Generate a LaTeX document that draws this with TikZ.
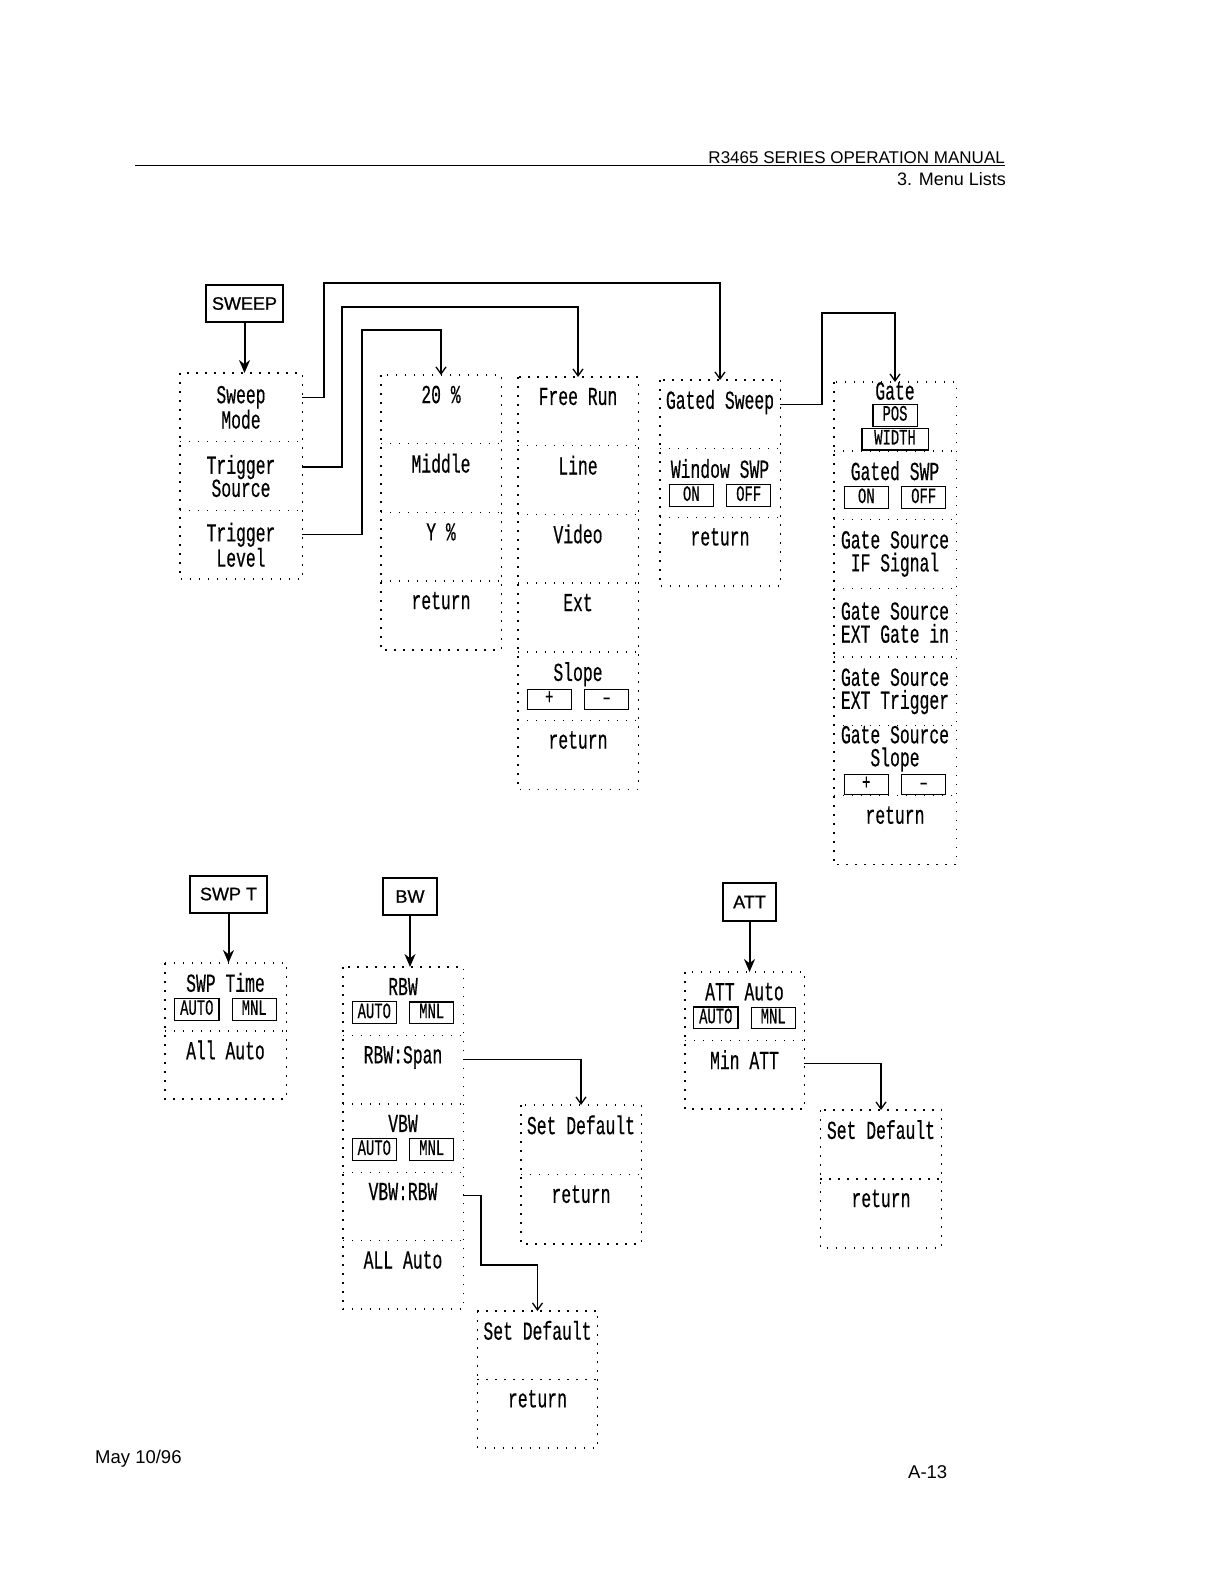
\documentclass[tikz,border=0pt]{standalone}
\usepackage{fontspec}
\setmainfont{Liberation Sans}
\newfontfamily\menufont{Liberation Mono}[FakeStretch=0.63,FakeBold=0.4]
\newfontfamily\headfont{Liberation Sans}[FakeBold=0.8]
\usetikzlibrary{positioning, arrows.meta}

\setlength{\fboxrule}{1.2pt}
\setlength{\fboxsep}{1pt}
\newcommand{\softkey}[2][41pt]{\fbox{\fontsize{22}{22}\selectfont\makebox[#1]{\rule[-4pt]{0pt}{17pt}#2}}}

\tikzset{
  keyhead/.style={draw, line width=2pt, minimum width=77pt, minimum height=37pt, inner sep=0pt, font=\headfont\fontsize{18}{20}\selectfont},
  menurow/.style={minimum width=120pt, minimum height=68.3pt, inner sep=0pt, align=center, anchor=north, font=\menufont\fontsize{26}{23}\selectfont},
  menuline/.style={line width=1.4pt, dash pattern=on 1.6pt off 7.4pt},
  keydown/.style={line width=2pt, -{Stealth[length=13pt, width=11pt]}},
  submenu/.style={line width=1.3pt, -{Straight Barb[length=7pt, width=10pt]}},
}

\begin{document}
\begin{tikzpicture}[x=1pt, y=-1pt]
  \fill[white] (0,0) rectangle (1224,1584);
  \useasboundingbox (0,0) rectangle (1224,1584);

  % ---------- header / footer ----------
  \draw[line width=1pt] (135,165) -- (1005,165);
  \node[anchor=base east, inner sep=0pt, font=\fontsize{17}{18}\selectfont] (manual) at (1005,163) {R3465 SERIES OPERATION MANUAL};
  \node[anchor=base east, inner sep=0pt, font=\fontsize{18}{18}\selectfont] (chapter) at (1006,185) {3. Menu Lists};
  \node[anchor=base west, inner sep=0pt, font=\fontsize{18.5}{18}\selectfont] (date) at (95,1463) {May 10/96};
  \node[anchor=base west, inner sep=0pt, font=\fontsize{18.5}{18}\selectfont] (page) at (908,1478) {A-13};

  % ---------- SWEEP ----------
  \node[keyhead] (sweepkey) at (244.5,303.5) {SWEEP};
  \node[menurow, minimum width=122pt] (mode) at (241,373) {Sweep\\Mode};
  \node[menurow, minimum width=122pt, below=0pt of mode] (trigsrc) {Trigger\\Source};
  \node[menurow, minimum width=122pt, below=0pt of trigsrc] (triglvl) {Trigger\\Level};
  \draw[menuline] (mode.north west) rectangle (triglvl.south east);
  \foreach \r in {mode,trigsrc} \draw[menuline] (\r.south west) -- (\r.south east);
  \draw[keydown] (sweepkey.south) -- (sweepkey.south |- mode.north);

  % Trigger Level
  \node[menurow] (pct) at (441,375) {20 \%\\\strut};
  \node[menurow, below=0pt of pct] (middle) {Middle\\\strut};
  \node[menurow, below=0pt of middle] (ypct) {Y \%\\\strut};
  \node[menurow, below=0pt of ypct] (pctret) {return\\\strut};
  \draw[menuline] (pct.north west) rectangle (pctret.south east);
  \foreach \r in {pct,middle,ypct} \draw[menuline] (\r.south west) -- (\r.south east);

  % Trigger Source
  \node[menurow] (freerun) at (578,377) {Free Run\\\strut};
  \node[menurow, below=0pt of freerun] (line) {Line\\\strut};
  \node[menurow, below=0pt of line] (video) {Video\\\strut};
  \node[menurow, below=0pt of video] (ext) {Ext\\\strut};
  \node[menurow, below=0pt of ext] (slope) {Slope\\\softkey{+}\hspace{12pt}\softkey{\textendash}};
  \node[menurow, below=0pt of slope] (trigret) {return\\\strut};
  \draw[menuline] (freerun.north west) rectangle (trigret.south east);
  \foreach \r in {freerun,line,video,ext,slope} \draw[menuline] (\r.south west) -- (\r.south east);

  % Sweep Mode
  \node[menurow] (gated) at (720,380) {Gated Sweep\\\strut};
  \node[menurow, below=0pt of gated] (window) {Window SWP\\\softkey{ON}\hspace{12pt}\softkey{OFF}};
  \node[menurow, below=0pt of window] (moderet) {return\\\strut};
  \draw[menuline] (gated.north west) rectangle (moderet.south east);
  \foreach \r in {gated,window} \draw[menuline] (\r.south west) -- (\r.south east);

  % Gated Sweep
  \node[menurow, minimum width=122pt, font=\menufont\fontsize{26}{21}\selectfont] (gate) at (895,382) {Gate\\\softkey{POS}\\\softkey[63pt]{WIDTH}};
  \node[menurow, minimum width=122pt, below=0pt of gate] (gatedswp) {Gated SWP\\\softkey{ON}\hspace{12pt}\softkey{OFF}};
  \node[menurow, minimum width=122pt, below=0pt of gatedswp] (gsif) {Gate Source\\IF Signal};
  \node[menurow, minimum width=122pt, below=0pt of gsif] (gsext) {Gate Source\\EXT Gate in};
  \node[menurow, minimum width=122pt, below=0pt of gsext] (gstrig) {Gate Source\\EXT Trigger};
  \node[menurow, minimum width=122pt, below=0pt of gstrig] (gsslope) {Gate Source\\Slope\\\softkey{+}\hspace{12pt}\softkey{\textendash}};
  \node[menurow, minimum width=122pt, below=0pt of gsslope] (gateret) {return\\\strut};
  \draw[menuline] (gate.north west) rectangle (gateret.south east);
  \foreach \r in {gate,gatedswp,gsif,gsext,gstrig,gsslope} \draw[menuline] (\r.south west) -- (\r.south east);

  % SWEEP connections
  \draw[submenu] ([yshift=10pt]mode.east) -| (324,283) -| (gated.north);
  \draw[submenu] ([yshift=9pt]trigsrc.east) -| (342,307) -| (freerun.north);
  \draw[submenu] ([yshift=10pt]triglvl.east) -| (362,330) -| (pct.north);
  \draw[submenu] ([yshift=10pt]gated.east) -| (822,313) -| (gate.north);

  % ---------- SWP T ----------
  \node[keyhead] (swptkey) at (228.5,894) {SWP T};
  \node[menurow, minimum width=121pt, minimum height=67.5pt] (swptime) at (225.5,963) {SWP Time\\\softkey{AUTO}\hspace{12pt}\softkey{MNL}};
  \node[menurow, minimum width=121pt, minimum height=67.5pt, below=0pt of swptime] (allauto) {All Auto\\\strut};
  \draw[menuline] (swptime.north west) rectangle (allauto.south east);
  \draw[menuline] (swptime.south west) -- (swptime.south east);
  \draw[keydown] (swptkey.south) -- (swptkey.south |- swptime.north);

  % ---------- BW ----------
  \node[keyhead, minimum width=54pt] (bwkey) at (410,896.5) {BW};
  \node[menurow, minimum height=68pt] (rbw) at (403,967) {RBW\\\softkey{AUTO}\hspace{12pt}\softkey{MNL}};
  \node[menurow, minimum height=68pt, below=0pt of rbw] (rbwspan) {RBW:Span\\\strut};
  \node[menurow, minimum height=68pt, below=0pt of rbwspan] (vbw) {VBW\\\softkey{AUTO}\hspace{12pt}\softkey{MNL}};
  \node[menurow, minimum height=68pt, below=0pt of vbw] (vbwrbw) {VBW:RBW\\\strut};
  \node[menurow, minimum height=68pt, below=0pt of vbwrbw] (allautobw) {ALL Auto\\\strut};
  \draw[menuline] (rbw.north west) rectangle (allautobw.south east);
  \foreach \r in {rbw,rbwspan,vbw,vbwrbw} \draw[menuline] (\r.south west) -- (\r.south east);
  \draw[keydown] (bwkey.south) -- (bwkey.south |- rbw.north);

  % RBW:Span
  \node[menurow, minimum height=69pt] (spandef) at (581,1105) {Set Default\\\strut};
  \node[menurow, minimum height=69pt, below=0pt of spandef] (spanret) {return\\\strut};
  \draw[menuline] (spandef.north west) rectangle (spanret.south east);
  \draw[menuline] (spandef.south west) -- (spandef.south east);
  \draw[submenu] ([yshift=10pt]rbwspan.east) -| (spandef.north);

  % VBW:RBW
  \node[menurow, minimum height=68pt] (ratiodef) at (537.5,1311) {Set Default\\\strut};
  \node[menurow, minimum height=68pt, below=0pt of ratiodef] (ratioret) {return\\\strut};
  \draw[menuline] (ratiodef.north west) rectangle (ratioret.south east);
  \draw[menuline] (ratiodef.south west) -- (ratiodef.south east);
  \draw[submenu] ([yshift=11pt]vbwrbw.east) -| (481,1265) -| (ratiodef.north);

  % ---------- ATT ----------
  \node[keyhead, minimum width=53pt, minimum height=38pt] (attkey) at (749.5,902) {ATT};
  \node[menurow, minimum width=119pt, minimum height=68pt] (attauto) at (744.5,972) {ATT Auto\\\softkey{AUTO}\hspace{12pt}\softkey{MNL}};
  \node[menurow, minimum width=119pt, minimum height=68pt, below=0pt of attauto] (minatt) {Min ATT\\\strut};
  \draw[menuline] (attauto.north west) rectangle (minatt.south east);
  \draw[menuline] (attauto.south west) -- (attauto.south east);
  \draw[keydown] (attkey.south) -- (attkey.south |- attauto.north);

  % Min ATT
  \node[menurow, minimum width=121pt, minimum height=68.5pt] (attdef) at (881,1110) {Set Default\\\strut};
  \node[menurow, minimum width=121pt, minimum height=68.5pt, below=0pt of attdef] (attret) {return\\\strut};
  \draw[menuline] (attdef.north west) rectangle (attret.south east);
  \draw[menuline] (attdef.south west) -- (attdef.south east);
  \draw[submenu] ([yshift=11pt]minatt.east) -| (attdef.north);
\end{tikzpicture}
\end{document}
